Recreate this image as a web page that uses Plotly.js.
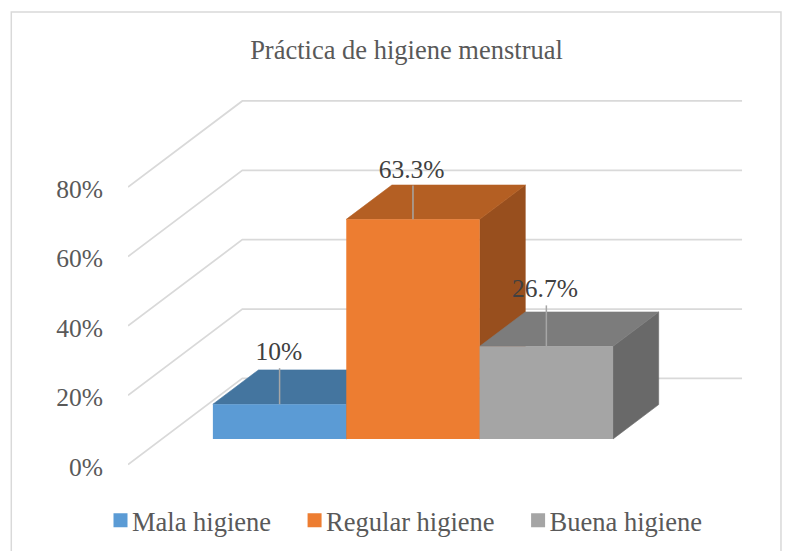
<!DOCTYPE html>
<html>
<head>
<meta charset="utf-8">
<script src="https://cdn.plot.ly/plotly-3.0.1.min.js"></script>
<style>html,body{margin:0;padding:0;background:#fff}#chart{width:792px;height:551px}</style>
</head>
<body>
<div id="chart"></div>
<script>
// ---- data ----
const categories = ['Mala higiene', 'Regular higiene', 'Buena higiene'];
const values = [10, 63.3, 26.7];
const valueLabels = ['10%', '63.3%', '26.7%'];
const gridValues = [0, 20, 40, 60, 80];
const tickLabels = ['0%', '20%', '40%', '60%', '80%'];
const frontColors = ['#5B9BD5', '#ED7D31', '#A5A5A5'];
const topColors = ['#44759F', '#B45F23', '#7C7C7C'];
const sideColors = ['#3F6C94', '#984F1E', '#696969'];

// ---- oblique projection constants, in axis units ----
const WALL_DX = 0.857, WALL_DY = 24.85;   // depth of the side wall
const BAR_LIFT = 7.4;                     // front of bars above the wall's front edge
const BAR_DX = 0.342, BAR_DY = 9.9;       // depth of the bars
const leaderLift = [10.4, 9.8, 11.8];
const labelLift = [14.7, 13.9, 16.2];
const labelShift = [-0.005, -0.01, -0.01];
const WALL_END = 3.467;

// ---- page geometry ----
const W = 792, H = 551;
const L = 127.5, R = 750;
const UNIT_X = 133.5, X0 = 279.2, Y_ZERO = 465, UNIT_Y = 3.476;
const Y_MIN = -3, Y_MAX = 108;
const xRange = [(L - X0) / UNIT_X, (R - X0) / UNIT_X];
const yRange = [Y_MIN, Y_MAX];
const plotTop = Y_ZERO - Y_MAX * UNIT_Y, plotBottom = Y_ZERO - Y_MIN * UNIT_Y;
const px = x => (x - L) / (R - L);
const py = y => (plotBottom - y) / (plotBottom - plotTop);

const data = [];

// walls (grid lines)
gridValues.forEach(v => {
  data.push({
    type: 'scatter', mode: 'lines', showlegend: false, hoverinfo: 'skip', cliponaxis: false,
    x: [xRange[0], xRange[0] + WALL_DX, WALL_END],
    y: [v, v + WALL_DY, v + WALL_DY],
    line: {color: '#D9D9D9', width: 1.75, simplify: false}
  });
});

// top and side faces, back to front
function face(xs, ys, color) {
  data.push({
    type: 'scatter', mode: 'lines', fill: 'toself', fillcolor: color,
    showlegend: false, hoverinfo: 'skip', x: xs, y: ys, line: {width: 0.6, color: color}
  });
}
values.forEach((v, i) => {
  const t = v + BAR_LIFT, a = i - 0.5, b = i + 0.5;
  face([b, b + BAR_DX, b + BAR_DX, b, b],
       [BAR_LIFT, BAR_LIFT + BAR_DY, t + BAR_DY, t, BAR_LIFT], sideColors[i]);
  face([a, b, b + BAR_DX, a + BAR_DX, a],
       [t, t, t + BAR_DY, t + BAR_DY, t], topColors[i]);
});

// front faces, above the side faces of the neighbours
categories.forEach((c, i) => {
  data.push({
    type: 'bar', name: c, x: [i], y: [values[i]], base: [BAR_LIFT], width: [1],
    xaxis: 'x2', yaxis: 'y2', hoverinfo: 'skip',
    marker: {color: frontColors[i], line: {width: 0}}
  });
});

// leader lines
values.forEach((v, i) => {
  data.push({
    type: 'scatter', mode: 'lines', showlegend: false, hoverinfo: 'skip',
    xaxis: 'x2', yaxis: 'y2',
    x: [i, i], y: [v + BAR_LIFT, v + BAR_LIFT + leaderLift[i]],
    line: {color: '#A6A6A6', width: 1.5}
  });
});

// value labels
data.push({
  type: 'scatter', mode: 'text', showlegend: false, hoverinfo: 'skip',
  xaxis: 'x2', yaxis: 'y2', cliponaxis: false,
  x: values.map((v, i) => i + labelShift[i]),
  y: values.map((v, i) => v + BAR_LIFT + labelLift[i]),
  text: valueLabels, textposition: 'middle center',
  textfont: {family: 'Liberation Serif', size: 25.5, color: '#404040'}
});

const layout = {
  width: W, height: H, showlegend: true, barmode: 'overlay',
  paper_bgcolor: '#fff', plot_bgcolor: 'rgba(0,0,0,0)',
  font: {family: 'Liberation Serif', color: '#595959', size: 25},
  margin: {l: L, r: W - R, t: plotTop, b: H - plotBottom, pad: 0, autoexpand: false},
  title: {text: 'Práctica de higiene menstrual', x: 406.5 / W, xanchor: 'center',
          y: 1 - 49.5 / H, yanchor: 'middle',
          font: {family: 'Liberation Serif', size: 26.5, color: '#595959'}},
  xaxis: {range: xRange, visible: false, fixedrange: true},
  xaxis2: {range: xRange, visible: false, overlaying: 'x', fixedrange: true},
  yaxis: {
    range: yRange, tickmode: 'array', tickvals: gridValues, ticktext: tickLabels,
    ticks: 'outside', ticklen: 19, tickcolor: 'rgba(0,0,0,0)', showgrid: false,
    ticklabelshift: 2,
    zeroline: false, showline: false, fixedrange: true,
    tickfont: {family: 'Liberation Serif', size: 25.5, color: '#595959'}
  },
  yaxis2: {range: yRange, visible: false, overlaying: 'y', fixedrange: true},
  legend: {
    orientation: 'h', x: 82 / W, y: 1 - 520.5 / H, xref: 'container', yref: 'container',
    xanchor: 'left', yanchor: 'middle', itemclick: false, itemdoubleclick: false,
    itemwidth: 40, bgcolor: 'rgba(0,0,0,0)',
    font: {family: 'Liberation Serif', size: 26.5, color: '#595959'}
  },
  shapes: [{
    type: 'path', xref: 'paper', yref: 'paper', layer: 'below',
    path: 'M' + px(10.7) + ',' + py(560) + ' L' + px(10.7) + ',' + py(11.5) +
          ' L' + px(781) + ',' + py(11.5) + ' L' + px(781) + ',' + py(560),
    line: {color: '#D9D9D9', width: 1.5}
  }]
};

Plotly.newPlot('chart', data, layout, {displayModeBar: false}).then(() => {
  document.querySelectorAll('#chart .legend .legendpoints path').forEach(p => {
    p.setAttribute('transform', 'translate(38.5,0) scale(1.1667)');
  });
});
</script>
</body>
</html>
